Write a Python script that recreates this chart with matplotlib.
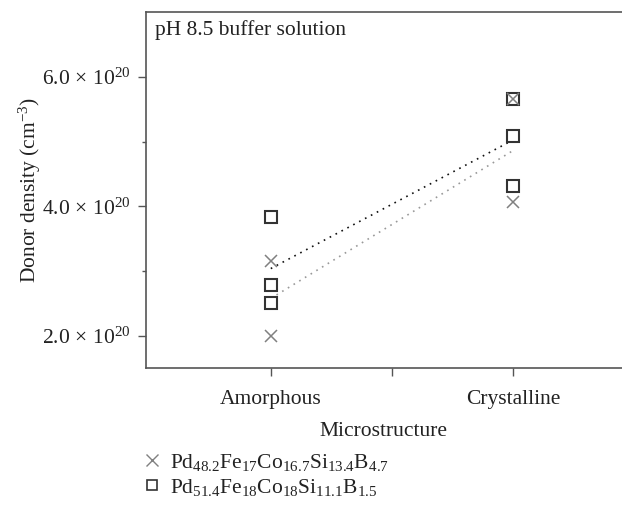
import matplotlib
matplotlib.use("Agg")
import matplotlib.pyplot as plt
import numpy as np
from matplotlib.ticker import FixedLocator, FuncFormatter
from matplotlib.lines import Line2D

plt.rcParams["font.family"] = ["Liberation Serif", "DejaVu Serif"]
plt.rcParams["mathtext.fontset"] = "custom"
plt.rcParams["mathtext.rm"] = "Liberation Serif"
plt.rcParams["mathtext.it"] = "Liberation Serif:italic"

# donor density values (units of 1e20 cm^-3)
categories = ["Amorphous", "Crystalline"]
alloy_a_amorphous = [3.16, 1.99]
alloy_a_crystalline = [5.66, 4.06]
alloy_b_amorphous = [3.83, 2.78, 2.50]
alloy_b_crystalline = [5.66, 5.09, 4.32]
y_ticks = [2.0, 4.0, 6.0]
y_minor = [3.0, 5.0]

label_a = r"Pd$_{48.2}$Fe$_{17}$Co$_{16.7}$Si$_{13.4}$B$_{4.7}$"
label_b = r"Pd$_{51.4}$Fe$_{18}$Co$_{18}$Si$_{11.1}$B$_{1.5}$"

text_col = "#222222"
spine_col = "#555555"
grey = "#808080"
dark = "#333333"
fs = 15.5

fig = plt.figure(figsize=(6.22, 5.05), dpi=100)
ax = fig.add_axes([0.234, 0.2713, 0.766, 0.7047])

# mean trend lines
ax.plot([0, 1], [np.mean(alloy_b_amorphous), np.mean(alloy_b_crystalline)],
        ls=(0, (1, 3)), color="#111111", lw=1.2)
ax.plot([0, 1], [np.mean(alloy_a_amorphous), np.mean(alloy_a_crystalline)],
        ls=(0, (1, 3)), color="#999999", lw=1.2)

# individual measurements
ax.plot([0] * len(alloy_b_amorphous), alloy_b_amorphous, ls="none", marker="s",
        ms=8, mfc="white", mec=dark, mew=1.5)
ax.plot([1] * len(alloy_b_crystalline), alloy_b_crystalline, ls="none", marker="s",
        ms=8, mfc="white", mec=dark, mew=1.5)
ax.plot([0] * len(alloy_a_amorphous), alloy_a_amorphous, ls="none", marker="x",
        ms=9, mec=grey, mew=1.1)
ax.plot([1] * len(alloy_a_crystalline), alloy_a_crystalline, ls="none", marker="x",
        ms=9, mec=grey, mew=1.1)

ax.set_xlim(-0.517, 1.45)
ax.set_ylim(1.5, 7.0)

ax.xaxis.set_major_locator(FixedLocator([0, 0.5, 1]))
ax.set_xticklabels([categories[0], "", categories[1]])
ax.yaxis.set_major_locator(FixedLocator(y_ticks))
ax.yaxis.set_minor_locator(FixedLocator(y_minor))
ax.yaxis.set_major_formatter(FuncFormatter(
    lambda v, p: r"%.1f$\,\times\,10^{20}$" % v))

for side in ["left", "bottom", "top"]:
    ax.spines[side].set_color(spine_col)
    ax.spines[side].set_linewidth(1.2)
ax.spines["right"].set_visible(False)

ax.tick_params(axis="both", which="major", length=6, width=1, color=spine_col,
               labelsize=fs, labelcolor=text_col, pad=5)
ax.tick_params(axis="y", which="minor", length=3, width=1, color=spine_col)
ax.tick_params(axis="x", pad=10)

ax.set_xlabel("Microstructure", fontsize=fs, color=text_col, labelpad=9)
ax.set_ylabel(r"Donor density (cm$^{-3}$)", fontsize=fs, color=text_col, labelpad=-1)

ax.text(0.02, 0.978, "pH 8.5 buffer solution", transform=ax.transAxes,
        fontsize=fs, color=text_col, va="top", ha="left")

handles = [
    Line2D([], [], ls="none", marker="x", ms=8, mec=grey, mew=1.0),
    Line2D([], [], ls="none", marker="s", ms=7, mfc="white", mec=dark, mew=1.2),
]
fig.legend(handles, [label_a, label_b], loc="upper left",
           bbox_to_anchor=(0.21, 0.127), frameon=False,
           fontsize=fs, handlelength=1.0, handletextpad=0.35, labelspacing=0.2,
           borderpad=0, labelcolor=text_col)

fig.savefig("out.png", dpi=100)
